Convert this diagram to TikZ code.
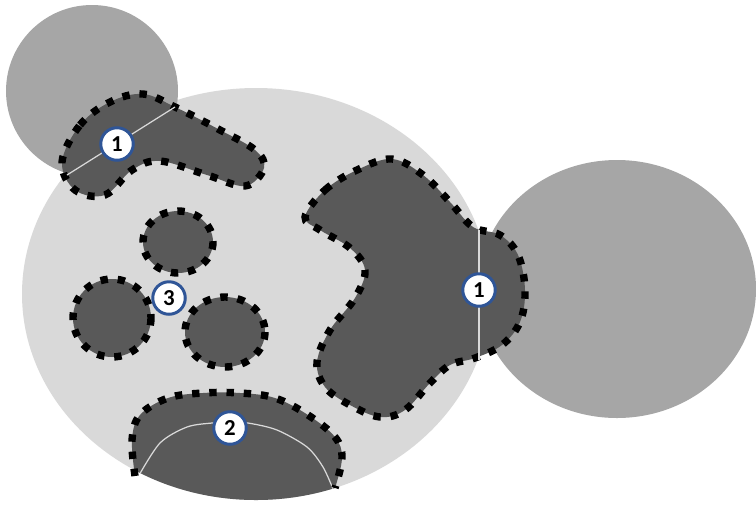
\documentclass[tikz,border=0pt]{standalone}
\usepackage{fontspec}
\setmainfont{Carlito}
\usepackage{tikz}
\definecolor{lightzone}{RGB}{217,217,217}
\definecolor{midzone}{RGB}{166,166,166}
\definecolor{darkzone}{RGB}{89,89,89}
\definecolor{tagblue}{RGB}{47,85,151}

\begin{document}
\begin{tikzpicture}[
  x=0.02cm, y=-0.02cm,
  region/.style={fill=darkzone},
  border/.style={draw=black,line width=4.2pt,dash pattern=on 4.2pt off 5.6pt},
  seam/.style={draw=lightzone,line width=0.7pt},
  tag/.style={circle,draw=tagblue,line width=1.7pt,fill=white,inner sep=0pt,
    minimum size=18.5pt,font=\bfseries\fontsize{13}{13}\selectfont}]

  % Frame of the picture
  \clip (0,0) rectangle (756,504);

  % Background zones
  \fill[lightzone] (256,294) ellipse [x radius=234, y radius=206];
  \fill[midzone] (92,91) circle [radius=86];
  \fill[midzone] (617,289) ellipse [x radius=139, y radius=129];

  % Region 1, top left
  \path[region,border] plot[smooth cycle,tension=0.6] coordinates {
    (62,162) (80,125) (110,102) (143,94) (175,107) (220,130) (255,150)
    (264,168) (245,186) (207,175) (160,161) (132,170) (105,195) (75,190)};
  \coordinate (chordA) at (67,175);
  \coordinate (chordB) at (175,107);
  \draw[seam] (chordA) -- (chordB);

  % Region 1, right
  \path[region,border] plot[smooth cycle,tension=0.6] coordinates {
    (305,217) (325,190) (357,170) (392,159) (423,175) (450,202) (473,227)
    (500,235) (518,255) (525,290) (520,322) (502,345) (475,358) (450,365)
    (430,383) (405,410) (380,417) (350,405) (325,387) (317,362) (330,330)
    (355,298) (365,270) (350,248) (320,230)};
  \coordinate (seamTop) at (479,230);
  \coordinate (seamBot) at (479,360);
  \draw[seam] (seamTop) -- (seamBot);

  % Region 3, three small islands
  \path[region,border] (178,242) ellipse [x radius=35, y radius=31];
  \path[region,border] (112,318) ellipse [x radius=39, y radius=39];
  \path[region,border] (225,332) ellipse [x radius=40, y radius=35];

  % Region 2, bottom, cut by the light zone
  \begin{scope}
    \clip (256,294) ellipse [x radius=234, y radius=206];
    \fill[region] plot[smooth,tension=0.6] coordinates {
      (135,476) (132,440) (140,415) (168,398) (203,393) (240,393)
      (275,398) (308,415) (335,437) (342,458) (335,488)}
      -- (335,520) -- (135,520) -- cycle;
    \draw[seam] plot[smooth] coordinates {
      (138,477) (160,443) (187,427) (212,423) (230,422) (248,423)
      (277,430) (307,447) (323,467) (333,489)};
  \end{scope}
  \draw[border] plot[smooth,tension=0.6] coordinates {
    (135,476) (132,440) (140,415) (168,398) (203,393) (240,393)
    (275,398) (308,415) (335,437) (342,458) (335,488)};

  % Tags
  \node[tag] (tagA) at (117,144) {1};
  \node[tag] (tagB) at (479,290) {1};
  \node[tag] (tagC) at (230,428) {2};
  \node[tag] (tagD) at (169,298) {3};
\end{tikzpicture}
\end{document}
